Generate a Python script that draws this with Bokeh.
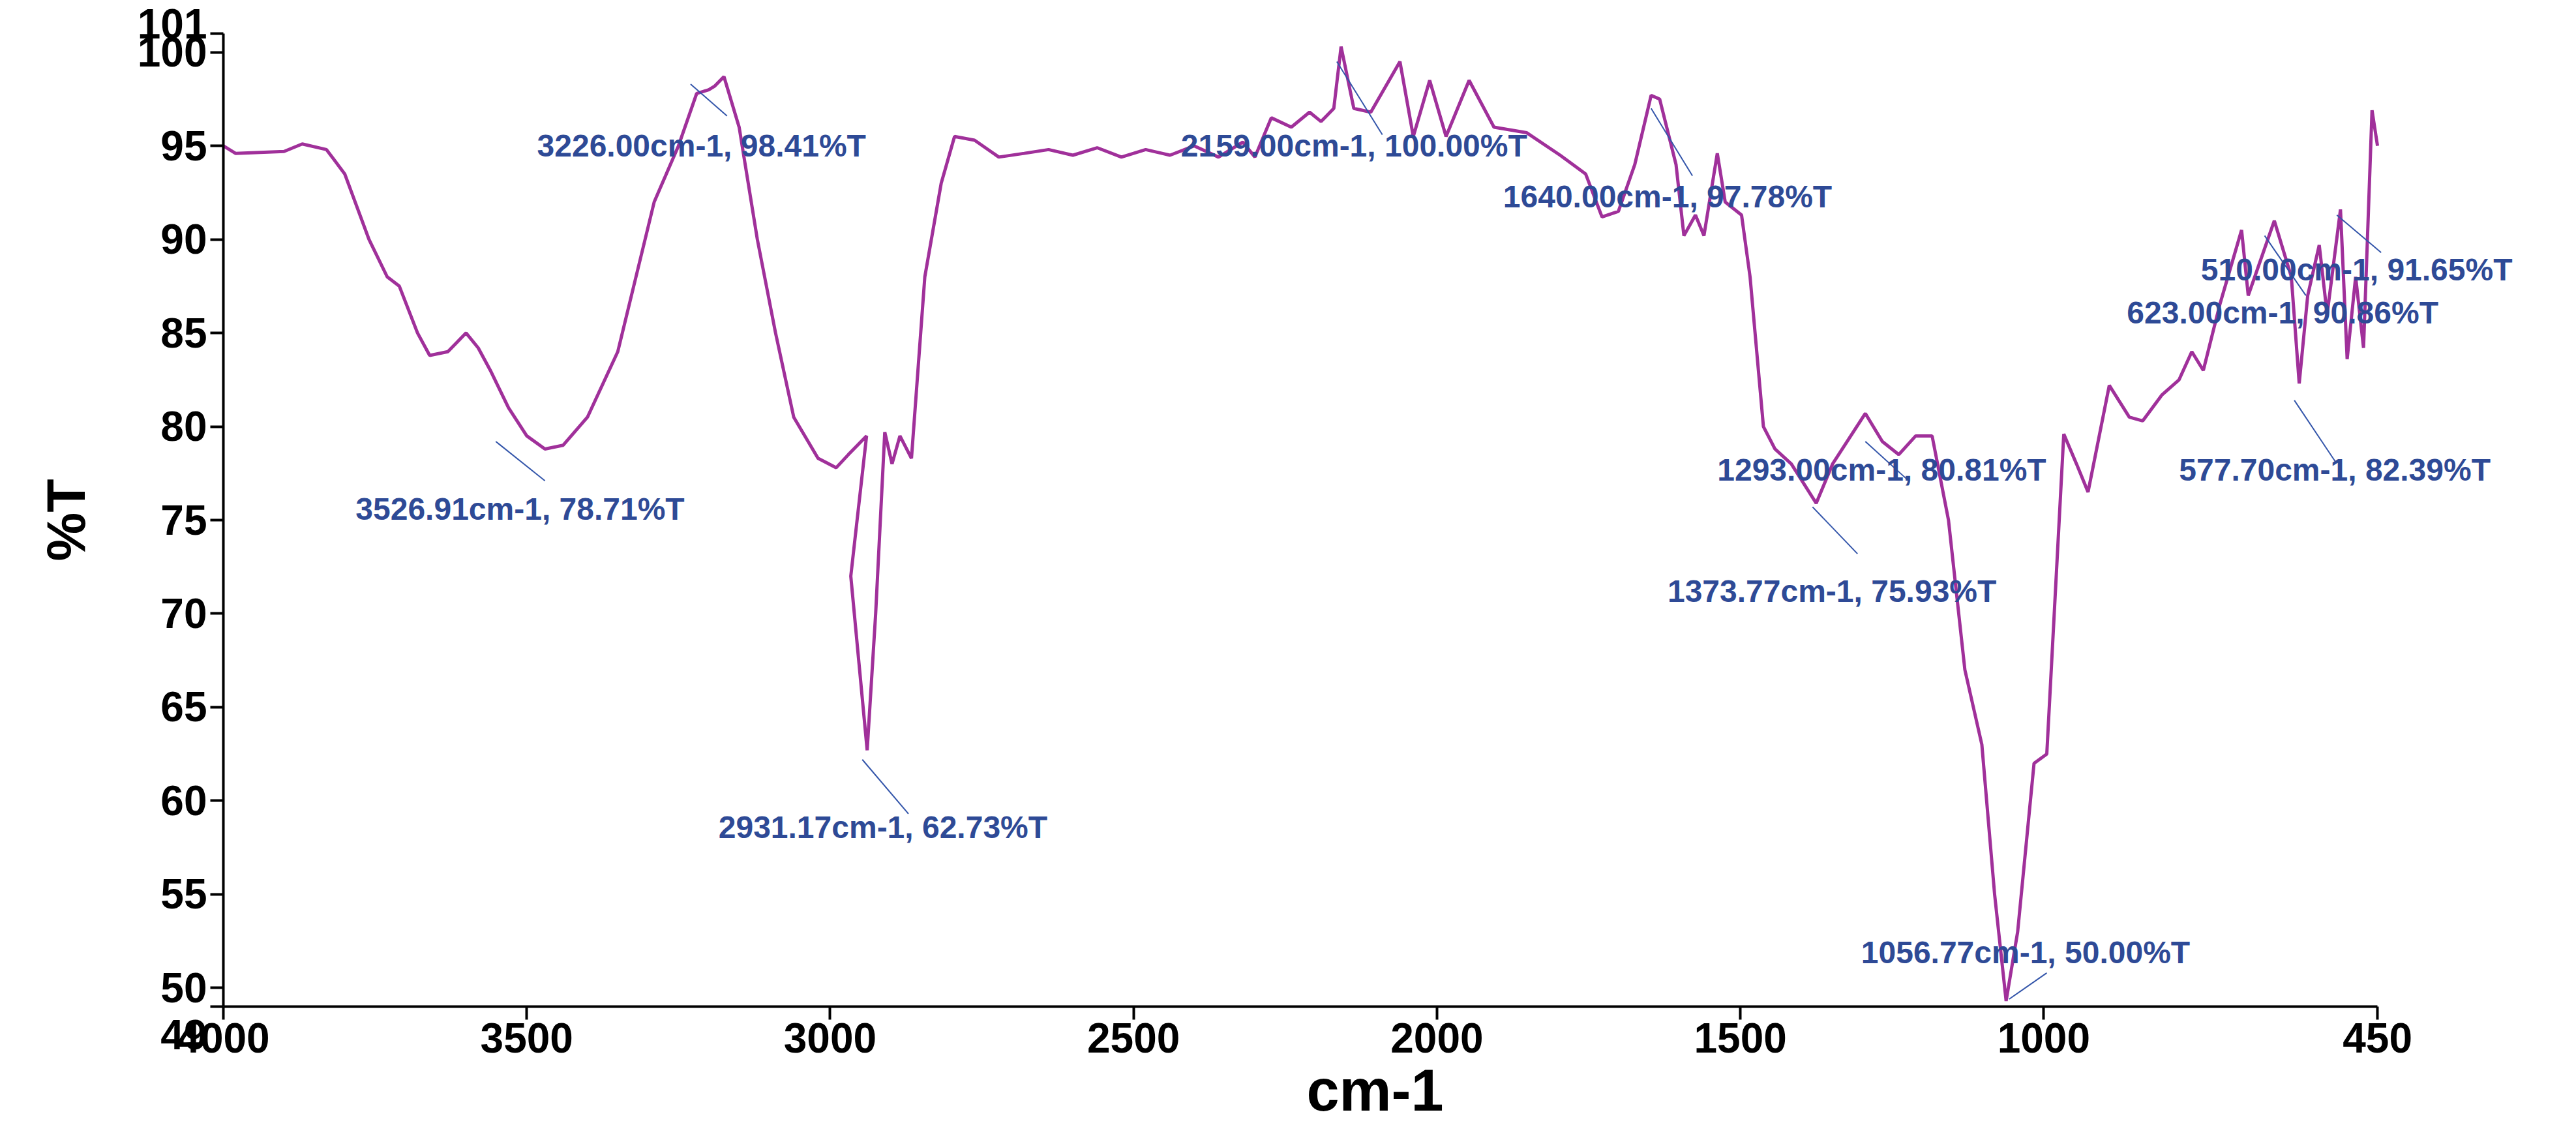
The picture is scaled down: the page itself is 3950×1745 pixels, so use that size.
from bokeh.plotting import figure
from bokeh.models import Range1d, FixedTicker, Label
from bokeh.embed import file_html
from bokeh.resources import INLINE

wavenumber = [4000, 3980, 3900, 3870, 3830, 3800, 3760, 3730, 3710, 3680, 3660, 3630, 3600, 3580, 3560,
              3530, 3500, 3470, 3440, 3400, 3350, 3320, 3290, 3270, 3250, 3220, 3200, 3190, 3175, 3150,
              3120, 3090, 3060, 3020, 2990, 2970, 2940, 2910, 2966, 2939, 2925, 2898, 2885, 2866, 2844,
              2817, 2795, 2762, 2722, 2680, 2640, 2600, 2560, 2520, 2480, 2440, 2400, 2360, 2320, 2300,
              2273, 2240, 2210, 2191, 2170, 2158, 2137, 2109, 2061, 2039, 2012, 1985, 1947, 1906, 1852,
              1797, 1755, 1728, 1701, 1674, 1647, 1633, 1606, 1593, 1574, 1560, 1538, 1525, 1498, 1484,
              1462, 1443, 1416, 1375, 1348, 1294, 1266, 1239, 1211, 1184, 1157, 1130, 1102, 1081, 1062,
              1043, 1016, 995, 967, 946, 927, 892, 859, 837, 805, 777, 756, 737, 710, 674, 663, 620,
              592, 579, 565, 546, 533, 511, 500, 486, 473, 459, 450]
transmittance = [95.0, 94.6, 94.7, 95.1, 94.8, 93.5, 90.0, 88.0, 87.5, 85.0, 83.8, 84.0, 85.0, 84.2, 83.0,
                 81.0, 79.5, 78.8, 79.0, 80.5, 84.0, 88.0, 92.0, 93.5, 95.0, 97.8, 98.0, 98.2, 98.7, 96.0,
                 90.0, 85.0, 80.5, 78.3, 77.8, 78.5, 79.5, 79.7, 72.0, 62.7, 70.0, 78.0, 79.5, 78.3, 88.0,
                 93.0, 95.5, 95.3, 94.4, 94.6, 94.8, 94.5, 94.9, 94.4, 94.8, 94.5, 95.0, 94.4, 95.2, 94.4,
                 96.5, 96.0, 96.8, 96.3, 97.0, 100.3, 97.0, 96.8, 99.5, 95.5, 98.5, 95.5, 98.5, 96.0, 95.7,
                 94.5, 93.5, 91.2, 91.5, 94.0, 97.7, 97.5, 94.0, 90.2, 91.3, 90.2, 94.6, 92.0, 91.3, 88.0,
                 80.0, 78.8, 78.0, 75.9, 78.0, 80.7, 79.2, 78.5, 79.5, 79.5, 75.0, 67.0, 63.0, 55.0, 49.3,
                 53.0, 62.0, 62.5, 79.6, 78.0, 76.5, 82.2, 80.5, 80.3, 81.7, 82.5, 84.0, 83.0, 86.5, 90.5, 87.0, 91.0,
                 88.0, 82.3, 87.0, 89.7, 86.0, 91.6, 83.6, 88.0, 84.2, 96.9, 95.0]
# fix ordering of the 2931 dip segment
pts = list(zip(wavenumber, transmittance))
pts = pts[:37] + sorted(pts[37:44], key=lambda t: -t[0]) + pts[44:]
wavenumber = [a for a, b in pts]
transmittance = [b for a, b in pts]

label_texts = ["3226.00cm-1, 98.41%T", "2159.00cm-1, 100.00%T", "1640.00cm-1, 97.78%T",
               "510.00cm-1, 91.65%T", "623.00cm-1, 90.86%T", "577.70cm-1, 82.39%T",
               "1293.00cm-1, 80.81%T", "3526.91cm-1, 78.71%T", "1373.77cm-1, 75.93%T",
               "2931.17cm-1, 62.73%T", "1056.77cm-1, 50.00%T"]
label_x = [3483, 2422, 1891, 741, 863, 777, 1538, 3782, 1620, 3184, 1301]
label_y = [95.0, 95.0, 92.3, 88.4, 86.1, 77.7, 77.7, 75.6, 71.2, 58.6, 51.9]
lead_x0 = [3230, 2165, 1647, 517, 636, 587, 1294, 3551, 1381, 2947, 1057]
lead_y0 = [98.3, 99.5, 97.0, 91.3, 90.2, 81.4, 79.2, 79.2, 75.7, 62.2, 49.4]
lead_x1 = [3170, 2090, 1579, 444, 568, 519, 1226, 3470, 1307, 2871, 995]
lead_y1 = [96.6, 95.6, 93.4, 89.3, 87.0, 78.1, 77.2, 77.1, 73.2, 59.3, 50.8]

y_ticks = [49, 50, 55, 60, 65, 70, 75, 80, 85, 90, 95, 100, 101]
x_ticks = [4000, 3500, 3000, 2500, 2000, 1500, 1000, 450]

p = figure(width=3934, height=1729, output_backend="svg", toolbar_location=None,
           x_range=Range1d(4000, 204), y_range=Range1d(49, 101),
           min_border_left=342, min_border_right=60, min_border_top=51, min_border_bottom=186)
p.outline_line_color = None
p.xgrid.visible = False
p.ygrid.visible = False

p.line(wavenumber, transmittance, line_color="#A0309A", line_width=5)
p.segment(lead_x0, lead_y0, lead_x1, lead_y1, line_color="#3355AA", line_width=2)

for t, x, y in zip(label_texts, label_x, label_y):
    p.add_layout(Label(x=x, y=y, text=t, text_font="Liberation Sans", text_font_style="bold",
                       text_font_size="48px", text_color="#2E4A96", text_baseline="middle",
                       text_align="left"))

for ax in (p.xaxis[0], p.yaxis[0]):
    ax.axis_line_width = 4
    ax.axis_line_color = "black"
    ax.major_tick_line_width = 4
    ax.major_tick_out = 20
    ax.major_tick_in = 0
    ax.minor_tick_line_color = None
    ax.major_label_text_font = "Liberation Sans"
    ax.major_label_text_font_style = "bold"
    ax.major_label_text_font_size = "64px"
    ax.major_label_text_color = "black"
    ax.axis_label_text_font = "Liberation Sans"
    ax.axis_label_text_font_style = "bold"
    ax.axis_label_text_color = "black"
p.xaxis.bounds = (450, 4000)
p.xaxis.ticker = FixedTicker(ticks=x_ticks)
p.yaxis.ticker = FixedTicker(ticks=y_ticks)
p.yaxis.major_label_overrides = {101: "101\n\u00a0", 49: "\u00a0\n49"}
p.xaxis.axis_label = "cm-1"
p.yaxis.axis_label = "%T"
p.xaxis.axis_label_text_font_size = "90px"
p.yaxis.axis_label_text_font_size = "84px"
p.xaxis.axis_label_standoff = 5
p.yaxis.axis_label_standoff = 60

open("out.html", "w").write(file_html(p, INLINE))
